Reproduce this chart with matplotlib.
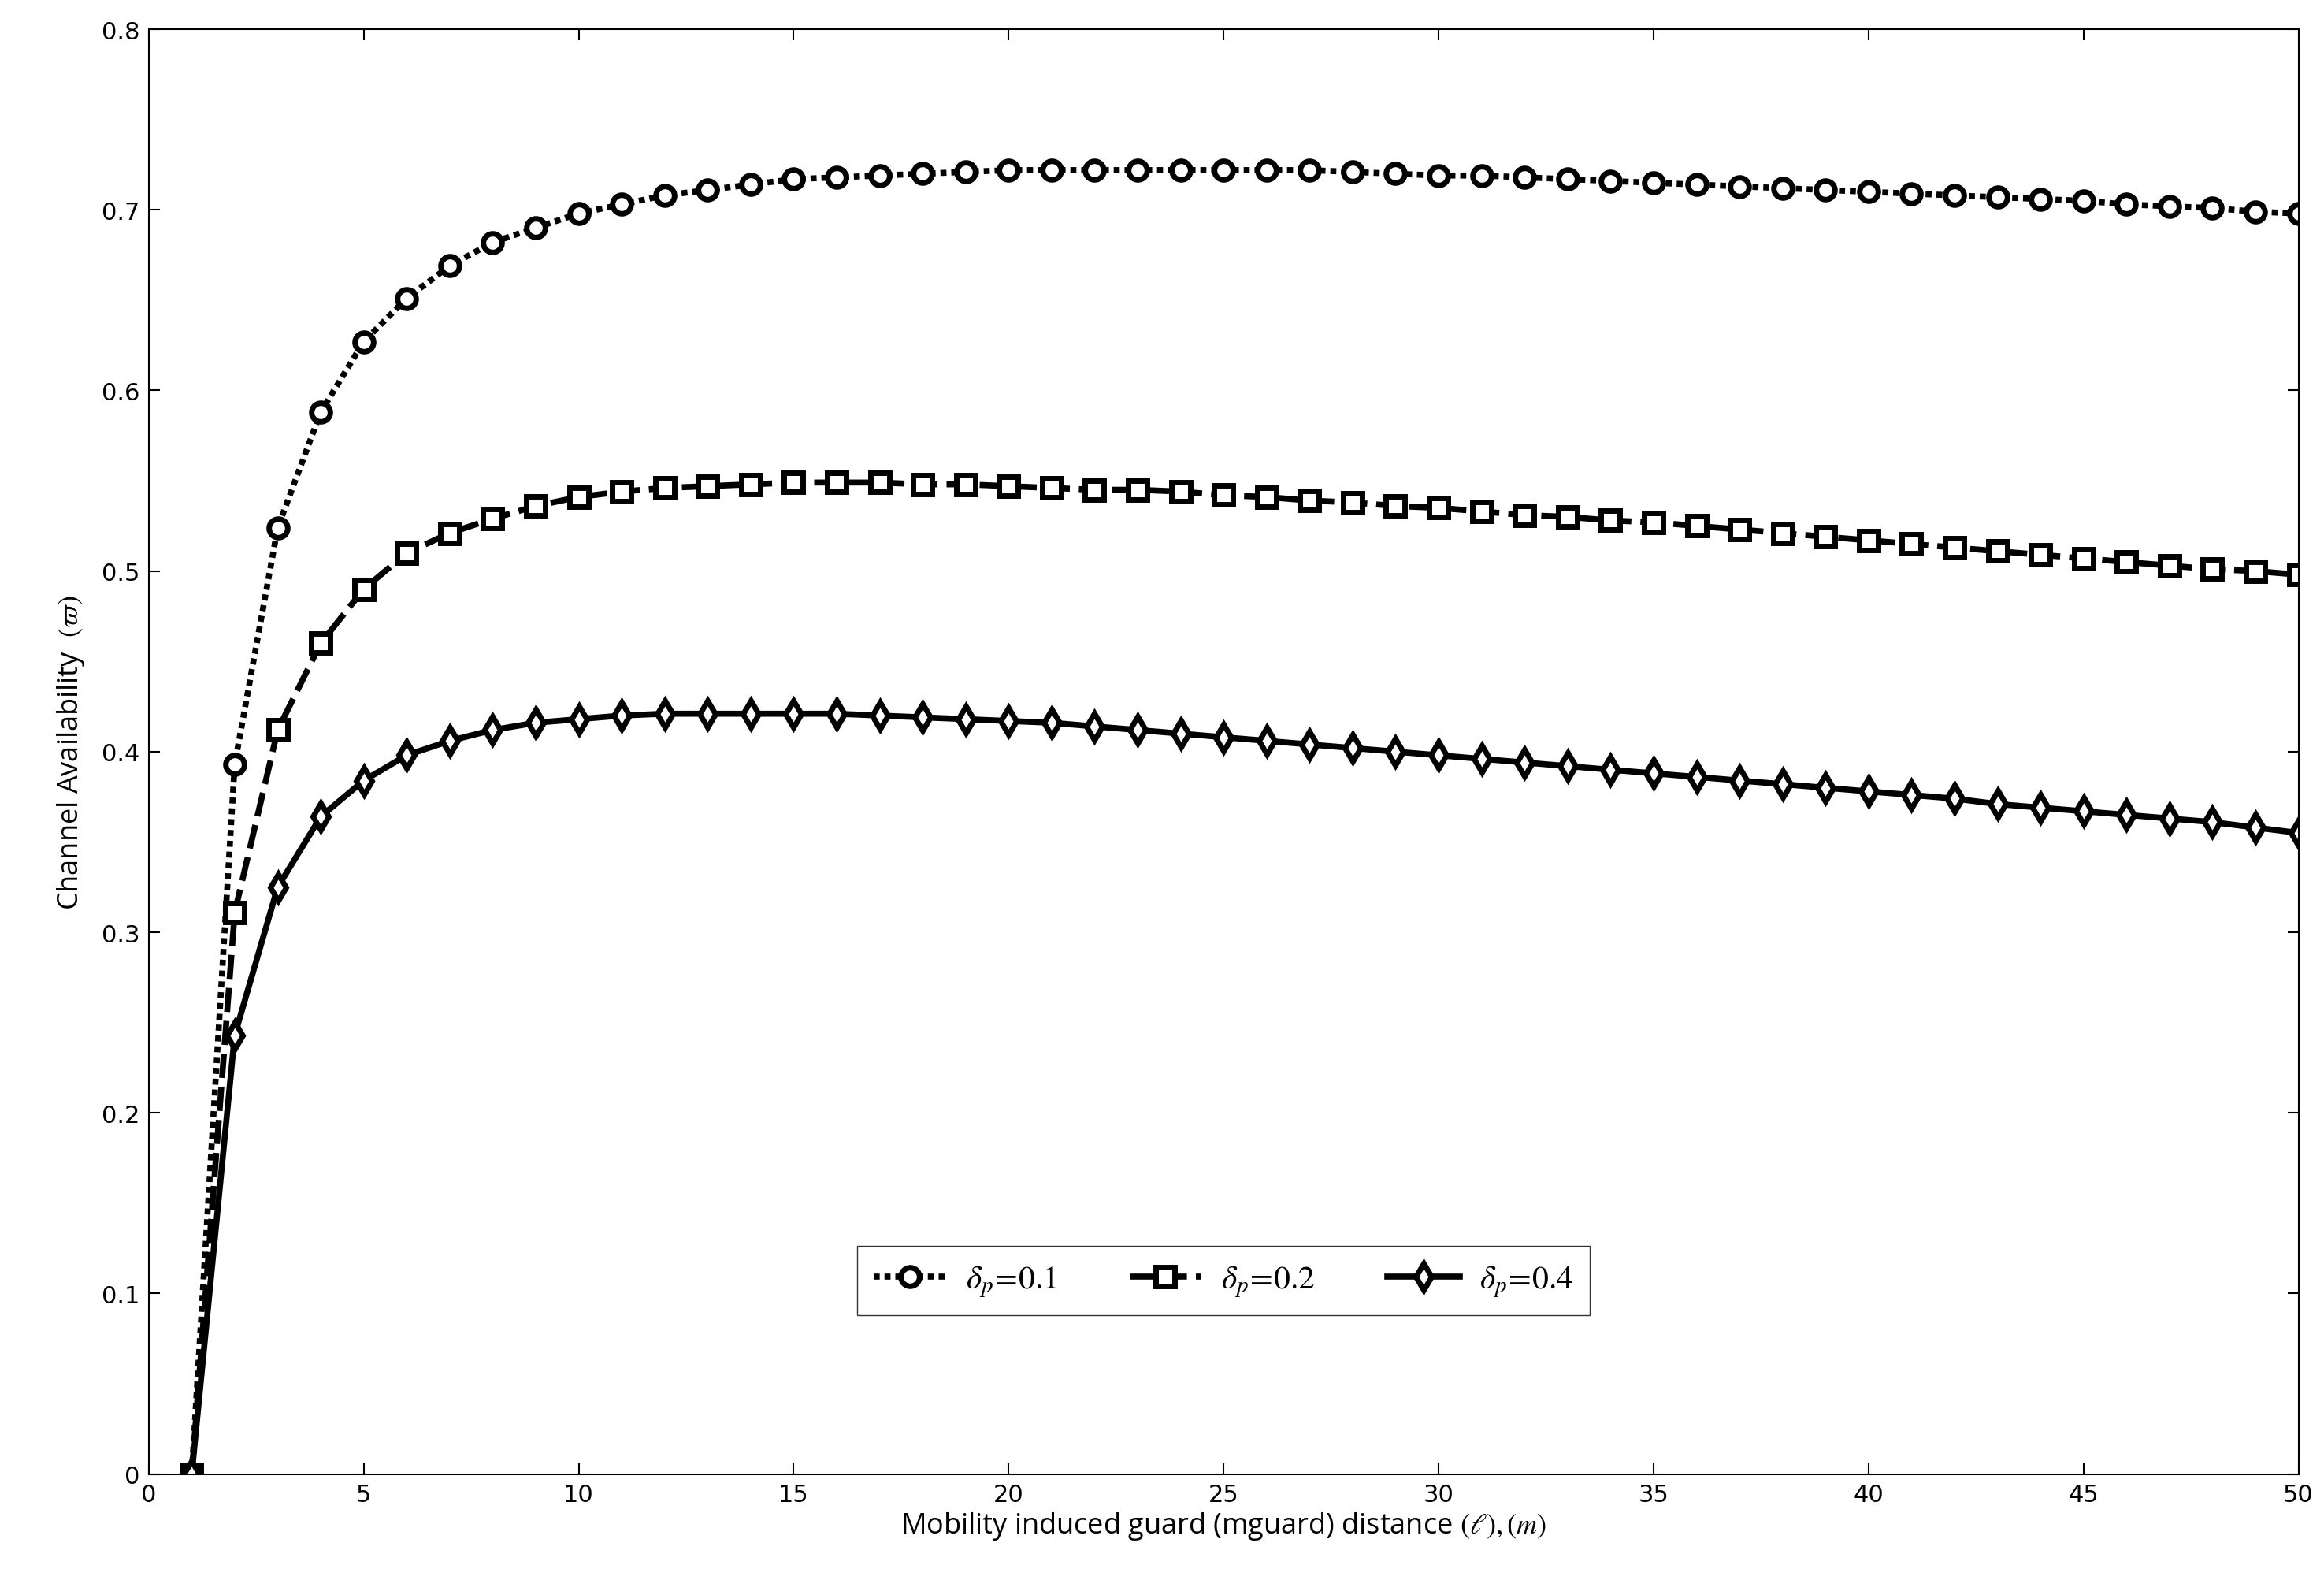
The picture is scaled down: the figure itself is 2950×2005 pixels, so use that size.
import numpy as np
from matplotlib import pyplot as plt

plt.rcParams['mathtext.fontset'] = 'stix'

x = np.arange(1, 51)
avail_01 = [0.0, 0.393, 0.524, 0.588, 0.627, 0.651, 0.669, 0.682, 0.690, 0.698,
            0.703, 0.708, 0.711, 0.714, 0.717, 0.718, 0.719, 0.720, 0.721, 0.722,
            0.722, 0.722, 0.722, 0.722, 0.722, 0.722, 0.722, 0.721, 0.720, 0.719,
            0.719, 0.718, 0.717, 0.716, 0.715, 0.714, 0.713, 0.712, 0.711, 0.710,
            0.709, 0.708, 0.707, 0.706, 0.705, 0.703, 0.702, 0.701, 0.699, 0.698]
avail_02 = [0.0, 0.311, 0.412, 0.460, 0.490, 0.510, 0.521, 0.529, 0.536, 0.541,
            0.544, 0.546, 0.547, 0.548, 0.549, 0.549, 0.549, 0.548, 0.548, 0.547,
            0.546, 0.545, 0.545, 0.544, 0.542, 0.541, 0.539, 0.538, 0.536, 0.535,
            0.533, 0.531, 0.530, 0.528, 0.527, 0.525, 0.523, 0.521, 0.519, 0.517,
            0.515, 0.513, 0.511, 0.509, 0.507, 0.505, 0.503, 0.501, 0.500, 0.498]
avail_04 = [0.0, 0.243, 0.325, 0.364, 0.384, 0.398, 0.406, 0.412, 0.416, 0.418,
            0.420, 0.421, 0.421, 0.421, 0.421, 0.421, 0.420, 0.419, 0.418, 0.417,
            0.416, 0.414, 0.412, 0.410, 0.408, 0.406, 0.404, 0.402, 0.400, 0.398,
            0.396, 0.394, 0.392, 0.390, 0.388, 0.386, 0.384, 0.382, 0.380, 0.378,
            0.376, 0.374, 0.371, 0.369, 0.367, 0.365, 0.363, 0.361, 0.358, 0.355]

fig = plt.figure(figsize=(29.5, 20.06), dpi=100)
ax = fig.add_axes([0.064, 0.067, 0.925, 0.914])

mk = dict(color='k', lw=5.5, markersize=17, markeredgewidth=5, markerfacecolor='white')
ax.plot(x, avail_01, linestyle=(0, (1, 0.8)), marker='o', label=r'$\delta_p\!=\!0.1$', **mk)
ax.plot(x, avail_02, linestyle=(0, (4, 1.5)), marker='s', label=r'$\delta_p\!=\!0.2$', **mk)
ax.plot(x, avail_04, linestyle='-', marker='d', label=r'$\delta_p\!=\!0.4$', **mk)

ax.set_xlim(0, 50)
ax.set_ylim(0, 0.8)
ax.set_xticks(np.arange(0, 51, 5))
ax.set_yticks(np.arange(0, 0.81, 0.1))
ax.set_yticklabels(['0', '0.1', '0.2', '0.3', '0.4', '0.5', '0.6', '0.7', '0.8'])
ax.tick_params(direction='in', top=True, right=True, length=10, width=1.5,
               labelsize=22, pad=8)
for s in ax.spines.values():
    s.set_linewidth(1.5)

ax.set_xlabel(r'Mobility induced guard (mguard) distance $(\ell),(m)$', fontsize=26,
              family='Open Sans', labelpad=4)
ax.set_ylabel(r'Channel Availability  $(\varpi)$', fontsize=26, family='Open Sans', labelpad=14)

ax.legend(loc='center', bbox_to_anchor=(0.5, 0.134), ncol=3, fontsize=30,
          fancybox=False, edgecolor='k', handlelength=2.2, handletextpad=0.6,
          columnspacing=2.2, borderpad=0.5)

fig.savefig('out.png')
